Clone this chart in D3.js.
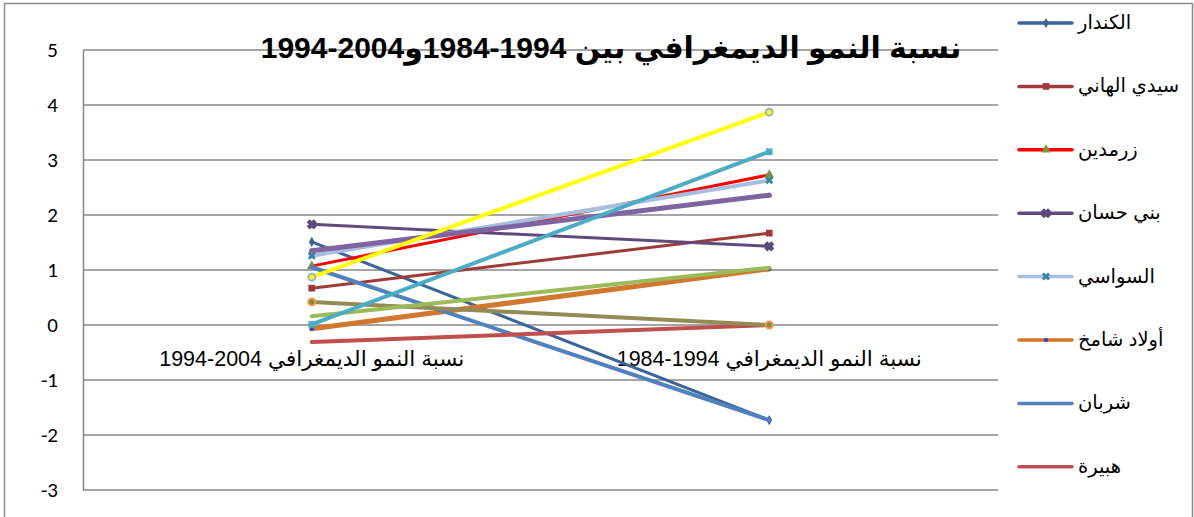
<!DOCTYPE html>
<html>
<head>
<meta charset="utf-8">
<script src="https://cdn.jsdelivr.net/npm/d3@7"></script>
<style>
  body { margin: 0; background: #fff; }
  text { font-family: "Liberation Sans", Arial, "DejaVu Sans", sans-serif; }
</style>
</head>
<body>
<div id="chart"></div>
<script>
// categories (logical order as typed in the source sheet)
var categories = ["نسبة النمو الديمغرافي 2004-1994", "نسبة النمو الديمغرافي 1994-1984"];
var title = "نسبة النمو الديمغرافي بين 1994-1984و2004-1994";
var yTicks = [-3, -2, -1, 0, 1, 2, 3, 4, 5];

// series names (only the first eight fit in the legend)
var names = ["الكندار", "سيدي الهاني", "زرمدين", "بني حسان", "السواسي", "أولاد شامخ", "شربان", "هبيرة",
             "سلسلة 9", "سلسلة 10", "سلسلة 11", "سلسلة 12", "سلسلة 13"];

// values: [1994-2004, 1984-1994]
var kondar = [1.51, -1.73];
var sidiHani = [0.67, 1.67];
var zarmdin = [1.07, 2.73];
var beniHassan = [1.83, 1.43];
var souassi = [1.26, 2.63];
var ouledChamekh = [-0.07, 1.02];
var cherbane = [1.05, -1.73];
var hbira = [-0.31, 0.0];
var serie9 = [1.35, 2.36];
var serie10 = [0.42, 0.0];
var serie11 = [0.16, 1.04];
var serie12 = [0.01, 3.15];
var serie13 = [0.87, 3.87];

var values = [kondar, sidiHani, zarmdin, beniHassan, souassi, ouledChamekh, cherbane, hbira,
              serie9, serie10, serie11, serie12, serie13];

// styles per series
var styles = [
  { color: "#3A649A", width: 3, marker: "diamond", mfill: "#3A649A", msize: 30 },
  { color: "#9E3B38", width: 3, marker: "square", mfill: "#9E3B38", msize: 45 },
  { color: "#FF0000", width: 3, marker: "triangle", mfill: "#77933C", msize: 40 },
  { color: "#604A7B", width: 3, marker: "x", mfill: "#604A7B", msize: 40 },
  { color: "#A7BFDE", width: 4, marker: "star", mfill: "#31859C", msize: 40 },
  { color: "#D2772E", width: 5, marker: "circle", mfill: "#2040E0", msize: 14 },
  { color: "#4F81BD", width: 4, marker: "none", mfill: "#4F81BD", msize: 0 },
  { color: "#C0504D", width: 4, marker: "none", mfill: "#C0504D", msize: 0 },
  { color: "#8064A2", width: 5, marker: "circle", mfill: "#8064A2", msize: 20 },
  { color: "#948A54", width: 4, marker: "ring", mfill: "#77933C", msize: 40 },
  { color: "#9BBB59", width: 4, marker: "none", mfill: "#9BBB59", msize: 0 },
  { color: "#4BACC6", width: 4, marker: "square", mfill: "#4BACC6", msize: 45 },
  { color: "#FFFF00", width: 4, marker: "ringY", mfill: "#FFFF00", msize: 40 }
];
var drawOrder = [0, 1, 2, 3, 4, 8, 5, 6, 7, 9, 10, 11, 12];

var W = 1194, H = 517;
var svg = d3.select("#chart").append("svg")
    .attr("width", W)
    .attr("height", H);

// outer chart border
svg.append("rect")
    .attr("x", 4.5).attr("y", 3.5)
    .attr("width", 1188).attr("height", 540)
    .attr("fill", "none")
    .attr("stroke", "#8a8a8a")
    .attr("stroke-width", 1.5);

var x = d3.scalePoint()
    .domain(categories)
    .range([83, 998])
    .padding(0.5);

var y = d3.scaleLinear()
    .domain([-3, 5])
    .range([490, 50]);

// gridlines
svg.append("g")
    .selectAll("line")
    .data(yTicks)
    .enter()
    .append("line")
    .attr("x1", 83).attr("x2", 998)
    .attr("y1", function(d) { return y(d); })
    .attr("y2", function(d) { return y(d); })
    .attr("stroke", "#878787")
    .attr("stroke-width", 1.5);

// y axis
var yAxis = svg.append("g")
    .attr("transform", "translate(83,0)")
    .call(d3.axisLeft(y).tickValues(yTicks).tickSize(0).tickPadding(25)
        .tickFormat(function(d) { return String(d); }));
yAxis.select(".domain").attr("stroke", "#878787").attr("stroke-width", 1.5);
yAxis.selectAll("text")
    .attr("font-size", 21)
    .attr("fill", "#000")
    .style("font-family", "Carlito, 'Open Sans', 'Liberation Sans', sans-serif");

// category labels
svg.append("g")
    .selectAll("text")
    .data(categories)
    .enter()
    .append("text")
    .attr("x", function(d) { return x(d); })
    .attr("y", 366)
    .attr("text-anchor", "middle")
    .attr("direction", "rtl")
    .attr("font-size", 21.5)
    .attr("fill", "#000")
    .text(function(d) { return d; });

// lines
var line = d3.line()
    .x(function(d, i) { return x(categories[i]); })
    .y(function(d) { return y(d); });

var series = svg.append("g")
    .selectAll("g")
    .data(drawOrder)
    .enter()
    .append("g");

series.append("path")
    .attr("d", function(k) { return line(values[k]); })
    .attr("fill", "none")
    .attr("stroke", function(k) { return styles[k].color; })
    .attr("stroke-width", function(k) { return styles[k].width; })
    .attr("stroke-linecap", "round");

function drawMarker(g, st, cx, cy) {
  if (st.marker === "none") return;
  var sym = {
    diamond: d3.symbolDiamond, square: d3.symbolSquare, triangle: d3.symbolTriangle,
    x: d3.symbolCross, star: d3.symbolCross, circle: d3.symbolCircle
  };
  if (st.marker === "ring" || st.marker === "ringY") {
    g.append("circle")
      .attr("cx", cx).attr("cy", cy).attr("r", 3.5)
      .attr("fill", st.marker === "ring" ? st.mfill : "#FFFF00")
      .attr("stroke", st.marker === "ring" ? "#F79646" : "#95B3D7")
      .attr("stroke-width", 2);
    return;
  }
  var rot = (st.marker === "x" || st.marker === "star") ? 45 : 0;
  g.append("path")
    .attr("d", d3.symbol().type(sym[st.marker]).size(st.msize)())
    .attr("transform", "translate(" + cx + "," + cy + ") rotate(" + rot + ")")
    .attr("fill", st.mfill)
    .attr("stroke", st.marker === "x" || st.marker === "star" ? st.mfill : "none")
    .attr("stroke-width", st.marker === "x" ? 1.5 : 0);
}

series.each(function(k) {
  var g = d3.select(this);
  values[k].forEach(function(v, i) {
    drawMarker(g, styles[k], x(categories[i]), y(v));
  });
});

// title
svg.append("text")
    .attr("x", 611)
    .attr("y", 58)
    .attr("text-anchor", "middle")
    .attr("direction", "rtl")
    .attr("font-size", 30)
    .attr("font-weight", "bold")
    .attr("fill", "#000")
    .text(title);

// legend (only first eight entries visible)
var legend = svg.append("g")
    .selectAll("g")
    .data(d3.range(8))
    .enter()
    .append("g")
    .attr("transform", function(k) { return "translate(1019," + (23 + k * 63.4) + ")"; });

legend.append("line")
    .attr("x1", 0).attr("x2", 53)
    .attr("y1", 0).attr("y2", 0)
    .attr("stroke", function(k) { return styles[k].color; })
    .attr("stroke-width", 3.5)
    .attr("stroke-linecap", "round");

legend.each(function(k) {
  drawMarker(d3.select(this), styles[k], 27, 0);
});

legend.append("text")
    .attr("x", 59)
    .attr("y", 6)
    .attr("font-size", 19.5)
    .attr("fill", "#000")
    .text(function(k) { return names[k]; });
</script>
</body>
</html>
